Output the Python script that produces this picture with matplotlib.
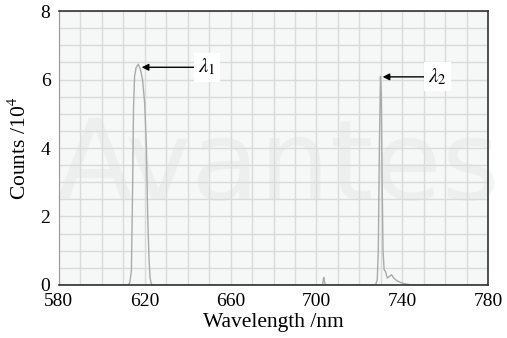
import numpy as np
import matplotlib.pyplot as plt

# spectrum (nm, counts / 1e4)
wavelength = [580, 612, 613, 613.8, 614.3, 614.8, 615.3, 616, 617, 618, 619, 620, 620.8, 621.4, 622, 622.5, 623, 623.5,
              702.8, 703.4, 703.7, 704.2,
              727.5, 728.3, 728.8, 729.3, 729.8, 730.2, 730.6, 731, 731.5, 732.2, 733, 734, 735, 736, 737.5, 740, 744, 780]
counts = [0, 0, 0.05, 0.4, 2.5, 5.2, 6.1, 6.35, 6.45, 6.3, 6.0, 5.3, 4.0, 2.0, 0.8, 0.2, 0.05, 0,
          0, 0.22, 0.1, 0,
          0, 0.15, 1.0, 4.0, 6.1, 5.6, 3.0, 1.0, 0.45, 0.38, 0.2, 0.25, 0.3, 0.2, 0.12, 0.05, 0, 0]

xticks = [580, 620, 660, 700, 740, 780]
yticks = [0, 2, 4, 6, 8]

plt.rcParams['font.family'] = ['Liberation Serif', 'DejaVu Serif']
plt.rcParams['mathtext.fontset'] = 'stix'

fig = plt.figure(figsize=(5.07, 3.38), dpi=100)
ax = fig.add_axes([0.116, 0.157, 0.847, 0.810])
ax.set_facecolor('#f6f7f7')

ax.set_xlim(580, 780)
ax.set_ylim(0, 8)
ax.set_xticks(np.arange(580, 781, 10), minor=True)
ax.set_yticks(np.arange(0, 8.01, 0.5), minor=True)
ax.grid(which='both', color='#d9dbdb', lw=1.0, zorder=0)
ax.set_axisbelow(True)

# faint vendor watermark
ax.text(682, 3.4, 'Avantes', fontsize=80, color='#e4e6e6', alpha=0.45,
        ha='center', va='center', family='DejaVu Sans', zorder=0.5)

ax.plot(wavelength, counts, color='#a9abab', lw=1.0, zorder=2)

ax.annotate(r'$\lambda_1$', xy=(618.6, 6.36), xytext=(645, 6.36), fontsize=15,
            va='center', ha='left',
            bbox=dict(boxstyle='square,pad=0.2', fc='white', ec='none'),
            arrowprops=dict(arrowstyle='-|>', color='black', lw=1.0, mutation_scale=10, shrinkA=0, shrinkB=0))
ax.annotate(r'$\lambda_2$', xy=(730.8, 6.08), xytext=(752, 6.08), fontsize=15,
            va='center', ha='left',
            bbox=dict(boxstyle='square,pad=0.2', fc='white', ec='none'),
            arrowprops=dict(arrowstyle='-|>', color='black', lw=1.0, mutation_scale=10, shrinkA=0, shrinkB=0))

ax.set_xticks(xticks)
ax.set_yticks(yticks)
ax.tick_params(which='both', length=0, labelsize=14)
ax.tick_params(axis='x', pad=6)
ax.tick_params(axis='y', pad=6)
for s in ['top', 'right', 'bottom']:
    ax.spines[s].set_color('#333333')
    ax.spines[s].set_linewidth(1.2)
ax.spines['left'].set_color('#9a9a9a')

ax.set_xlabel('Wavelength /nm', fontsize=15.5, labelpad=2)
ax.set_ylabel('Counts /10$^4$', fontsize=15.5, labelpad=7)

fig.savefig('out.png', dpi=100)
